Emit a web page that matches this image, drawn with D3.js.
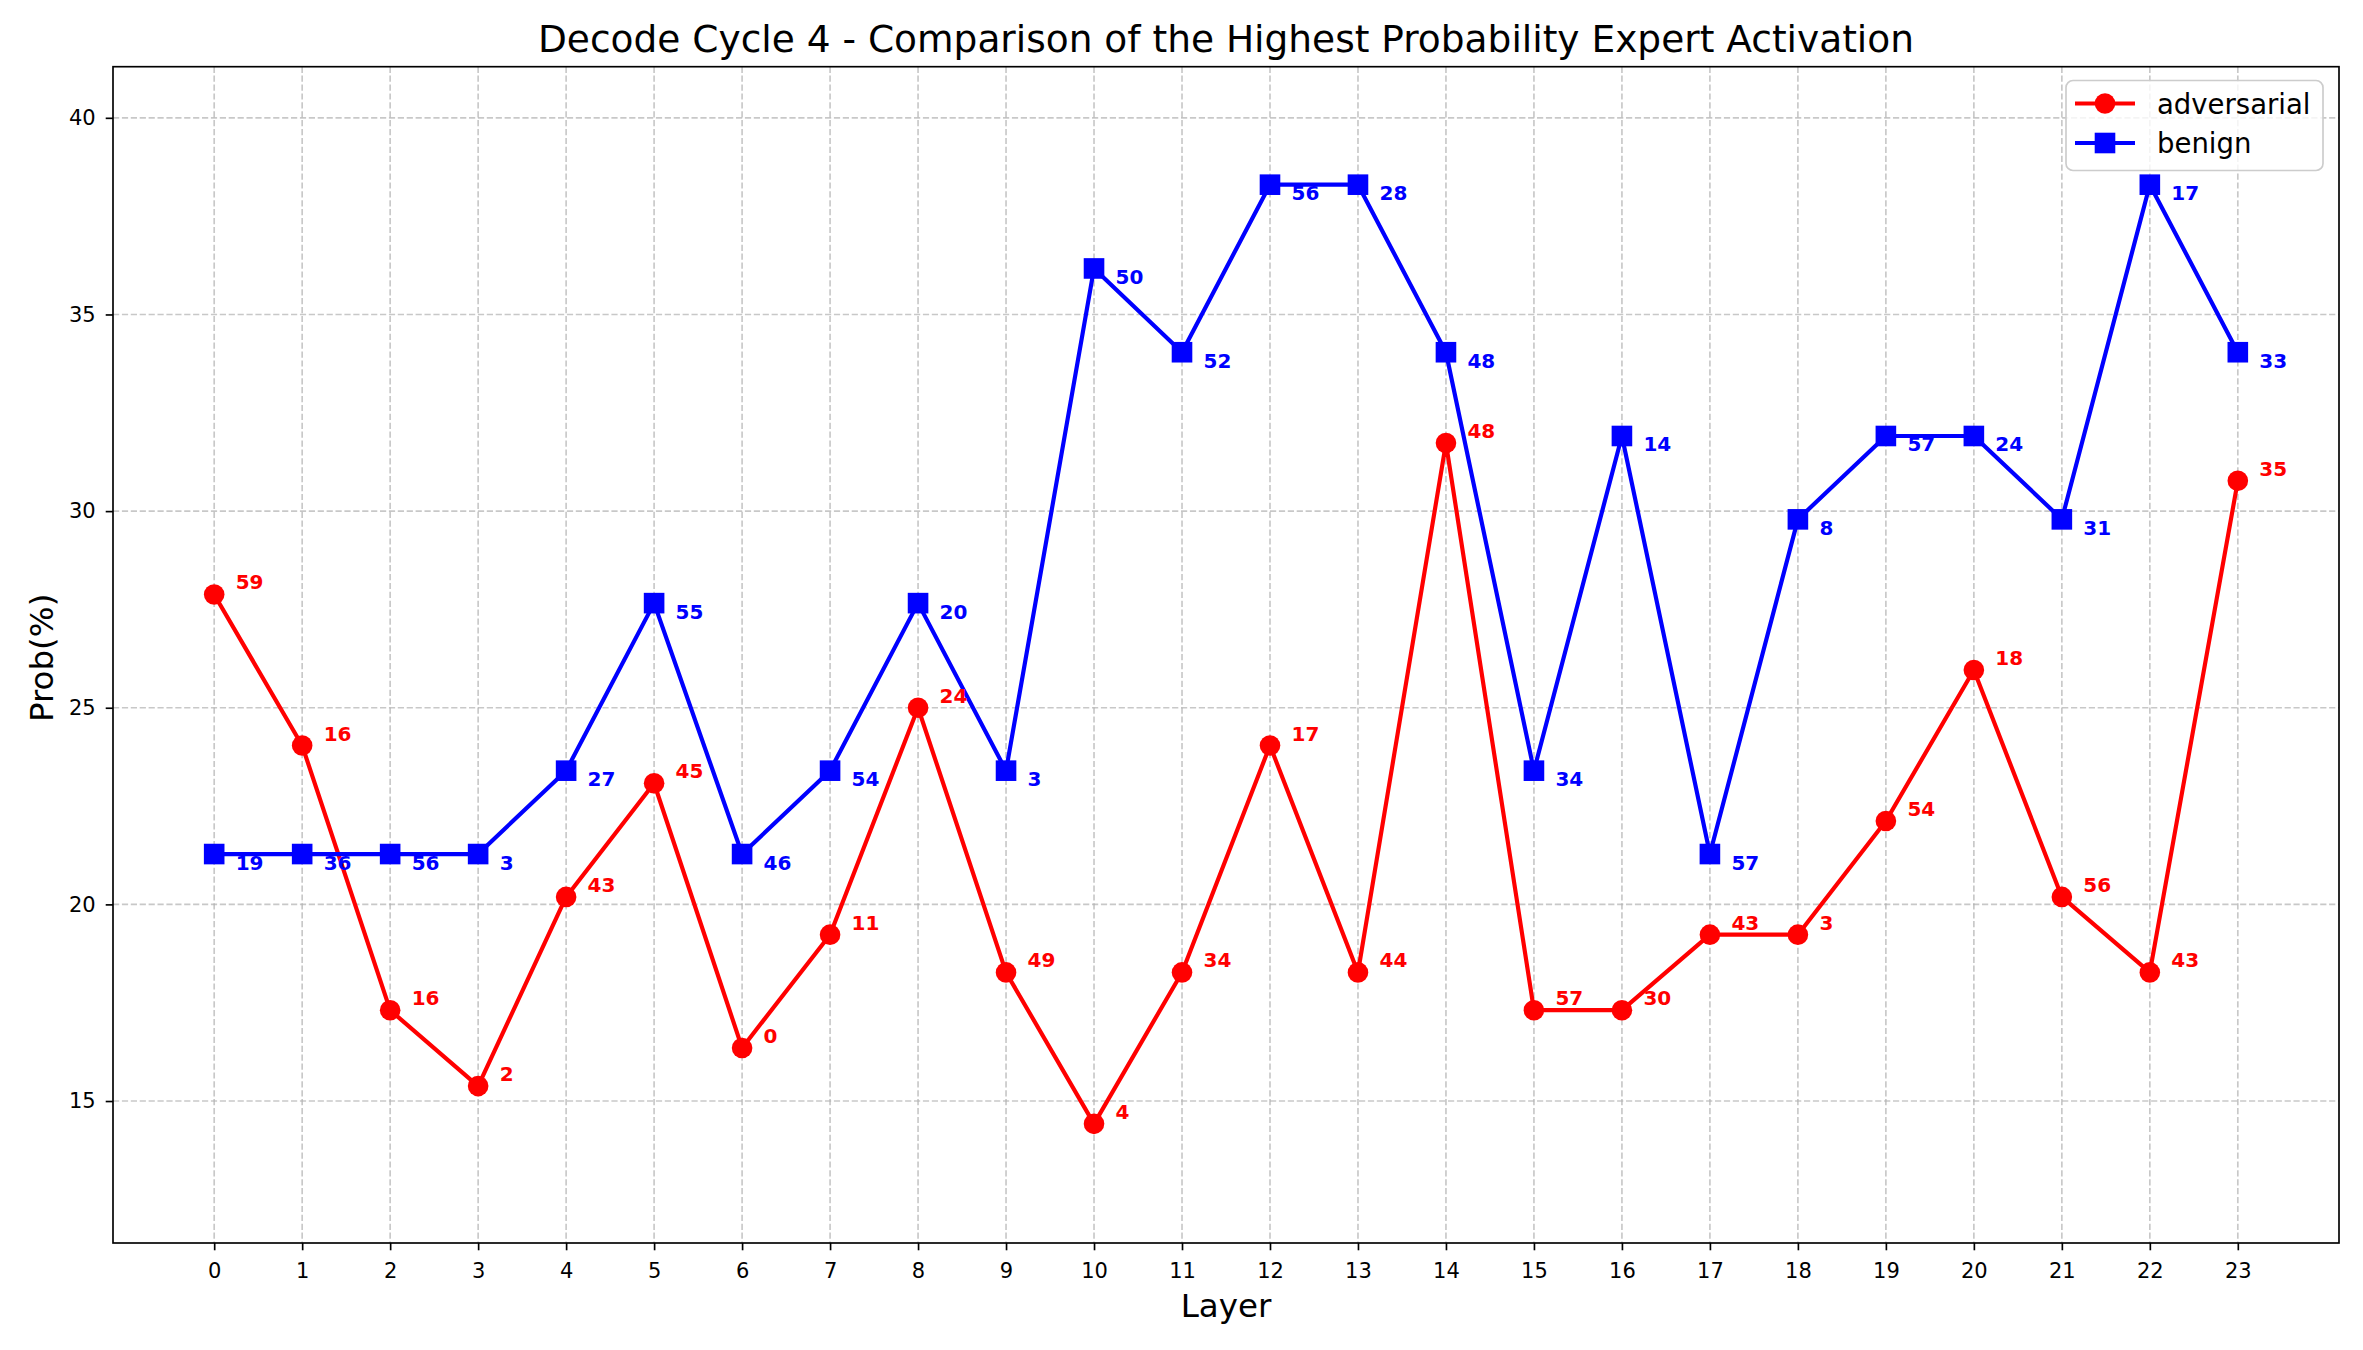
<!DOCTYPE html>
<html lang="en">
<head>
  <meta charset="UTF-8" />
  <title>Decode Cycle 4 - Expert Activation</title>
  <script src="https://d3js.org/d3.v7.min.js"></script>
  <style>
    body { margin: 0; background: #fff; }
    svg { display: block; font-family: "DejaVu Sans", sans-serif; }
  </style>
</head>
<body>
  <svg id="chart" width="2363" height="1350"></svg>

  <script>
    // x categories: decoder layer
    const layers = [0, 1, 2, 3, 4, 5, 6, 7, 8, 9, 10, 11, 12, 13, 14, 15, 16, 17, 18, 19, 20, 21, 22, 23];

    // probability (%) of the top expert per layer
    const adversarial = [27.88, 24.04, 17.31, 15.38, 20.19, 23.08, 16.35, 19.23, 25.00, 18.27, 14.42, 18.27,
                         24.04, 18.27, 31.73, 17.31, 17.31, 19.23, 19.23, 22.12, 25.96, 20.19, 18.27, 30.77];
    const benign = [21.28, 21.28, 21.28, 21.28, 23.40, 27.66, 21.28, 23.40, 27.66, 23.40, 36.17, 34.04,
                    38.30, 38.30, 34.04, 23.40, 31.91, 21.28, 29.79, 31.91, 31.91, 29.79, 38.30, 34.04];

    // id of the top expert, shown next to each point
    const adversarialExpert = [59, 16, 16, 2, 43, 45, 0, 11, 24, 49, 4, 34, 17, 44, 48, 57, 30, 43, 3, 54, 18, 56, 43, 35];
    const benignExpert = [19, 36, 56, 3, 27, 55, 46, 54, 20, 3, 50, 52, 56, 28, 48, 34, 14, 57, 8, 57, 24, 31, 17, 33];

    const yTicks = [15, 20, 25, 30, 35, 40];

    const svg = d3.select("#chart");
    const box = { left: 113, right: 2339, top: 66.7, bottom: 1243 };
    const px = 150 / 72; // one point in pixels

    const x = d3.scaleLinear().domain([-1.15, 24.15]).range([box.left, box.right]);
    const y = d3.scaleLinear().domain([11.39, 41.30]).range([box.bottom, box.top]);

    const series = [
      { name: "adversarial", values: adversarial, experts: adversarialExpert, color: "#ff0000", marker: "circle", dx: 21.5, dy: -5 },
      { name: "benign", values: benign, experts: benignExpert, color: "#0000ff", marker: "square", dx: 21.5, dy: 15.5 }
    ];

    // grid
    const grid = svg.append("g")
      .attr("stroke", "#b0b0b0")
      .attr("stroke-opacity", 0.7)
      .attr("stroke-width", 0.8 * px)
      .attr("stroke-dasharray", "6.2,2.7");
    grid.selectAll(".gx").data(layers).join("line")
      .attr("x1", d => x(d)).attr("x2", d => x(d))
      .attr("y1", box.top).attr("y2", box.bottom);
    grid.selectAll(".gy").data(yTicks).join("line")
      .attr("class", "gy")
      .attr("x1", box.left).attr("x2", box.right)
      .attr("y1", d => y(d)).attr("y2", d => y(d));

    // axes
    const xAxis = svg.append("g")
      .attr("transform", `translate(0,${box.bottom})`)
      .call(d3.axisBottom(x).tickValues(layers).tickSize(3.5 * px).tickSizeOuter(0));
    xAxis.selectAll("text").attr("dy", null).attr("y", 35);

    const yAxis = svg.append("g")
      .attr("transform", `translate(${box.left},0)`)
      .call(d3.axisLeft(y).tickValues(yTicks).tickSize(3.5 * px).tickSizeOuter(0).tickPadding(10));

    [xAxis, yAxis].forEach(a => {
      a.select(".domain").remove();
      a.selectAll("line").attr("stroke", "#000").attr("stroke-width", 0.8 * px);
      a.selectAll("text").attr("fill", "#000").attr("font-size", 21).attr("font-family", "DejaVu Sans");
    });

    // lines, markers and expert labels
    const line = d3.line().x((d, i) => x(layers[i])).y(d => y(d));

    series.forEach(s => {
      const g = svg.append("g");
      g.append("path")
        .datum(s.values)
        .attr("fill", "none")
        .attr("stroke", s.color)
        .attr("stroke-width", 2 * px)
        .attr("stroke-linejoin", "round")
        .attr("d", line);

      if (s.marker === "circle") {
        g.selectAll("circle").data(s.values).join("circle")
          .attr("cx", (d, i) => x(layers[i]))
          .attr("cy", d => y(d))
          .attr("r", 10.3)
          .attr("fill", s.color);
      } else {
        g.selectAll("rect").data(s.values).join("rect")
          .attr("x", (d, i) => x(layers[i]) - 10.3)
          .attr("y", d => y(d) - 10.3)
          .attr("width", 20.6)
          .attr("height", 20.6)
          .attr("fill", s.color);
      }
    });

    series.forEach(s => {
      svg.append("g").selectAll("text").data(s.values).join("text")
        .attr("x", (d, i) => x(layers[i]) + s.dx)
        .attr("y", d => y(d) + s.dy)
        .attr("fill", s.color)
        .attr("font-size", 20)
        .attr("font-weight", "bold")
        .text((d, i) => s.experts[i]);
    });

    // frame
    svg.append("rect")
      .attr("x", box.left).attr("y", box.top)
      .attr("width", box.right - box.left).attr("height", box.bottom - box.top)
      .attr("fill", "none").attr("stroke", "#000").attr("stroke-width", 0.8 * px);

    // titles
    svg.append("text")
      .attr("x", (box.left + box.right) / 2).attr("y", 52)
      .attr("text-anchor", "middle").attr("font-size", 37.5)
      .text("Decode Cycle 4 - Comparison of the Highest Probability Expert Activation");

    svg.append("text")
      .attr("x", (box.left + box.right) / 2).attr("y", 1317)
      .attr("text-anchor", "middle").attr("font-size", 32.5)
      .text("Layer");

    svg.append("text")
      .attr("transform", `translate(53,${(box.top + box.bottom) / 2 + 3}) rotate(-90)`)
      .attr("text-anchor", "middle").attr("font-size", 32.5)
      .text("Prob(%)");

    // legend
    const legend = svg.append("g").attr("transform", "translate(2066,80.5)");
    legend.append("rect")
      .attr("width", 257).attr("height", 90).attr("rx", 7)
      .attr("fill", "#fff").attr("fill-opacity", 0.8)
      .attr("stroke", "#cccccc").attr("stroke-width", 0.8 * px);

    series.forEach((s, i) => {
      const row = legend.append("g").attr("transform", `translate(0,${23 + i * 39.5})`);
      row.append("line")
        .attr("x1", 9).attr("x2", 69)
        .attr("stroke", s.color).attr("stroke-width", 2 * px);
      if (s.marker === "circle") {
        row.append("circle").attr("cx", 39).attr("r", 10.3).attr("fill", s.color);
      } else {
        row.append("rect").attr("x", 28.7).attr("y", -10.3).attr("width", 20.6).attr("height", 20.6).attr("fill", s.color);
      }
      row.append("text")
        .attr("x", 91).attr("y", 10)
        .attr("font-size", 27.5)
        .text(s.name);
    });
  </script>
</body>
</html>
